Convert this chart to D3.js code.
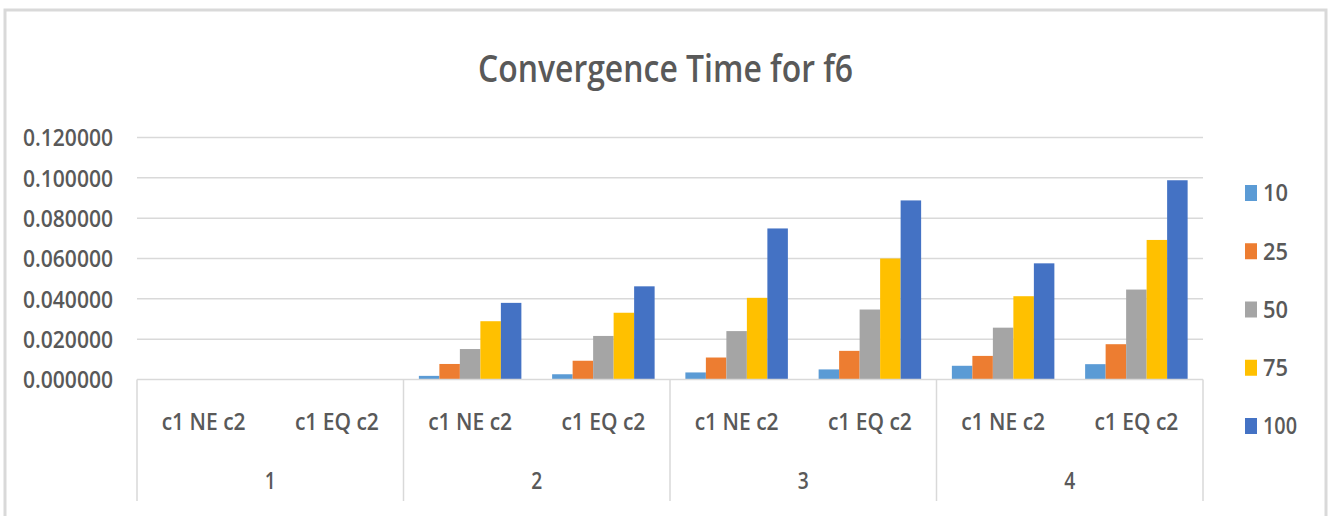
<!DOCTYPE html>
<html>
<head>
<meta charset="utf-8">
<script src="https://cdn.jsdelivr.net/npm/d3@7"></script>
<style>
  html, body { margin: 0; padding: 0; background: #fff; }
  svg { display: block; }
  text { font-family: "Open Sans", "Liberation Sans", sans-serif; font-weight: 600; fill: #595959; }
</style>
</head>
<body>
<svg id="chart" width="1328" height="516"></svg>
<script>
// ---- data ----
const groups = ["1", "2", "3", "4"];
const subCategories = ["c1 NE c2", "c1 EQ c2"];
const seriesNames = ["10", "25", "50", "75", "100"];
const seriesColors = ["#5b9bd5", "#ed7d31", "#a5a5a5", "#ffc000", "#4472c4"];
// values per series, ordered: group1 NE, group1 EQ, group2 NE, group2 EQ, ...
const s10  = [0, 0, 0.0018, 0.0026, 0.0035, 0.0050, 0.0068, 0.0076];
const s25  = [0, 0, 0.0077, 0.0093, 0.0109, 0.0142, 0.0117, 0.0175];
const s50  = [0, 0, 0.0151, 0.0216, 0.0240, 0.0347, 0.0257, 0.0446];
const s75  = [0, 0, 0.0289, 0.0331, 0.0405, 0.0600, 0.0413, 0.0692];
const s100 = [0, 0, 0.0380, 0.0462, 0.0749, 0.0888, 0.0576, 0.0988];
const yTicks = [0, 0.02, 0.04, 0.06, 0.08, 0.10, 0.12];
const title = "Convergence Time for f6";

const seriesValues = [s10, s25, s50, s75, s100];
const rows = [];
groups.forEach((g, gi) => subCategories.forEach((c, ci) => {
  const idx = gi * subCategories.length + ci;
  seriesNames.forEach((s, si) => rows.push({ group: g, cat: c, series: s, value: seriesValues[si][idx], color: seriesColors[si] }));
}));

// ---- layout ----
const svg = d3.select("#chart");
const plotLeft = 137, plotRight = 1203, plotTop = 137.5, plotBottom = 379.5;

// outer frame
svg.append("rect").attr("x", 5).attr("y", 10).attr("width", 1321).attr("height", 530)
  .attr("fill", "none").attr("stroke", "#d9d9d9").attr("stroke-width", 3);

const y = d3.scaleLinear().domain([0, 0.12]).range([plotBottom, plotTop]);
const xGroup = d3.scaleBand().domain(groups).range([plotLeft, plotRight]).padding(0);
const xCat = d3.scaleBand().domain(subCategories).range([0, xGroup.bandwidth()]).padding(0);
const xSeries = d3.scaleBand().domain(seriesNames).range([0, xCat.bandwidth()]).paddingInner(0).paddingOuter(0.75);

// gridlines
svg.append("g").selectAll("line").data(yTicks.filter(d => d > 0)).join("line")
  .attr("x1", plotLeft).attr("x2", plotRight)
  .attr("y1", d => y(d)).attr("y2", d => y(d))
  .attr("stroke", "#d9d9d9").attr("stroke-width", 1.5);

// y axis labels
const yAxis = d3.axisLeft(y).tickValues(yTicks).tickFormat(d3.format(".6f")).tickSize(0).tickPadding(0);
const yg = svg.append("g").attr("transform", `translate(113,0)`).call(yAxis);
yg.select(".domain").remove();
yg.selectAll("text").attr("font-size", 24).attr("fill", "#595959")
  .attr("font-family", null)
  .attr("textLength", 90).attr("lengthAdjust", "spacingAndGlyphs").attr("dy", "0.35em");

// bars
svg.append("g").selectAll("rect").data(rows).join("rect")
  .attr("x", d => xGroup(d.group) + xCat(d.cat) + xSeries(d.series))
  .attr("width", xSeries.bandwidth())
  .attr("y", d => y(d.value))
  .attr("height", d => plotBottom - y(d.value))
  .attr("fill", d => d.color);

// category axis line & separators
svg.append("line").attr("x1", plotLeft).attr("x2", plotRight).attr("y1", plotBottom).attr("y2", plotBottom)
  .attr("stroke", "#d9d9d9").attr("stroke-width", 1.5);
const bounds = groups.map(g => xGroup(g)).concat([plotRight]);
svg.append("g").selectAll("line").data(bounds).join("line")
  .attr("x1", d => d).attr("x2", d => d).attr("y1", plotBottom).attr("y2", 501)
  .attr("stroke", "#d9d9d9").attr("stroke-width", 1.5);

// sub category labels
const catLabels = [];
groups.forEach(g => subCategories.forEach(c => catLabels.push({ g, c })));
svg.append("g").selectAll("text").data(catLabels).join("text")
  .attr("x", d => xGroup(d.g) + xCat(d.c) + xCat.bandwidth() / 2)
  .attr("y", 422).attr("dy", "0.35em")
  .attr("text-anchor", "middle").attr("font-size", 24)
  .attr("textLength", 84).attr("lengthAdjust", "spacingAndGlyphs")
  .text(d => d.c);

// group labels
svg.append("g").selectAll("text").data(groups).join("text")
  .attr("x", d => xGroup(d) + xGroup.bandwidth() / 2)
  .attr("y", 481).attr("dy", "0.35em")
  .attr("text-anchor", "middle").attr("font-size", 24)
  .attr("textLength", 11).attr("lengthAdjust", "spacingAndGlyphs")
  .text(d => d);

// title
svg.append("text").attr("x", (478 + 853) / 2).attr("y", 82)
  .attr("text-anchor", "middle").attr("font-size", 37)
  .attr("textLength", 375).attr("lengthAdjust", "spacingAndGlyphs")
  .text(title);

// legend
const legendY = d3.scalePoint().domain(seriesNames).range([193, 426]);
const lg = svg.append("g").selectAll("g").data(seriesNames).join("g")
  .attr("transform", d => `translate(1245,${legendY(d)})`);
lg.append("rect").attr("x", 0).attr("y", -8).attr("width", 12).attr("height", 16)
  .attr("fill", (d, i) => seriesColors[i]);
lg.append("text").attr("x", 18).attr("y", 0).attr("dy", "0.36em").attr("font-size", 23)
  .attr("textLength", d => d.length === 3 ? 34 : 25).attr("lengthAdjust", "spacingAndGlyphs")
  .text(d => d);
</script>
</body>
</html>
